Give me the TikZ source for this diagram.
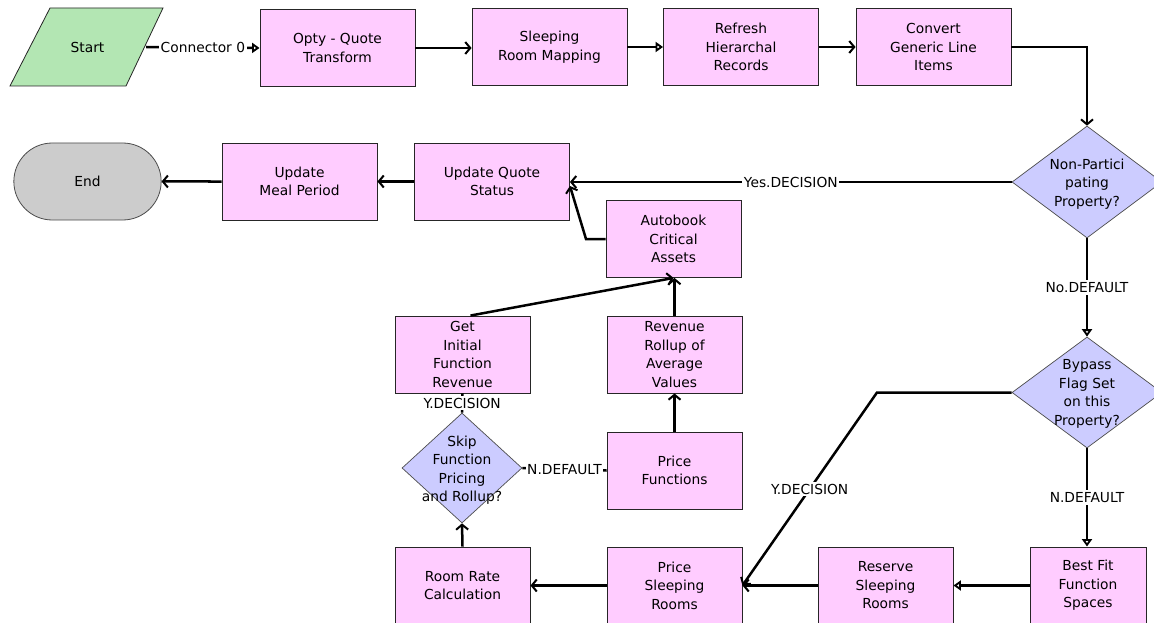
\documentclass[tikz,border=0pt]{standalone}
\usepackage{fontspec}
\setmainfont{DejaVu Sans}
\usetikzlibrary{shapes.geometric,shapes.misc,arrows.meta}
\definecolor{pinkc}{HTML}{FFCCFF}
\definecolor{lavc}{HTML}{CCCCFF}
\definecolor{greenc}{HTML}{B3E6B3}
\definecolor{grayc}{HTML}{CCCCCC}
\newcommand\dfont{\fontsize{13.8}{18.5}\selectfont}
\begin{document}
\begin{tikzpicture}[x=1pt,y=-1pt,
  box/.style={draw=black!85, line width=0.9pt, fill=pinkc, minimum width=135pt, minimum height=77pt, inner sep=0pt, align=center, font=\dfont},
  wbox/.style={box, minimum width=155pt},
  dia/.style={diamond, draw=black!70, line width=0.7pt, fill=lavc, inner sep=0pt},
  dtext/.style={align=center, font=\dfont, inner sep=0pt},
  pline/.style={line width=2.5pt},
  conn/.style={pline, -{Straight Barb[length=5pt,width=12pt,line width=2pt]}},
  oconn/.style={pline, -{Triangle[open,length=7.5pt,width=10pt,line width=2pt]}},
  lbl/.style={fill=white, inner xsep=1.5pt, inner ysep=2pt, font=\dfont},
]
\useasboundingbox[fill=white] (0,0) rectangle (1154,623);
\clip (0,0) rectangle (1154,623);

% start
\draw[fill=greenc, draw=black!85, line width=0.8pt] (50,8) -- (163,8) -- (126,86) -- (10,86) -- cycle;
\node[dtext, minimum width=117pt, minimum height=78pt] (start) at (87.5,47) {Start};

% top row
\node[wbox] (opty) at (337.5,48) {Opty - Quote\\Transform};
\node[wbox] (sleep) at (549.5,47) {Sleeping\\Room Mapping};
\node[wbox] (refresh) at (741,47) {Refresh\\Hierarchal\\Records};
\node[wbox] (convert) at (933.5,47) {Convert\\Generic Line\\Items};

% diamonds
\node[dia, minimum width=150pt, minimum height=112pt] (npp) at (1087,182) {};
\node[dtext] (npptxt) at (1087,184) {Non-Partici\\pating\\Property?};
\node[dia, minimum width=150pt, minimum height=111pt] (bypass) at (1087,392.5) {};
\node[dtext] (bypasstxt) at (1087,394) {Bypass\\Flag Set\\on this\\Property?};
\node[dia, minimum width=120pt, minimum height=110pt] (skip) at (462,468) {};
\node[dtext] (skiptxt) at (462,470) {Skip\\Function\\Pricing\\and Rollup?};

% row 2
\node[rounded rectangle, draw=black!70, line width=0.8pt, fill=grayc, minimum width=154pt, minimum height=77pt, font=\dfont] (end) at (87.5,181.5) {End};
\node[wbox] (ump) at (299.5,181.5) {Update\\Meal Period};
\node[wbox] (uqs) at (492,181.5) {Update Quote\\Status};
\node[box] (auto) at (673.5,239) {Autobook\\Critical\\Assets};

% middle
\node[box] (getinit) at (462.5,354.5) {Get\\Initial\\Function\\Revenue};
\node[box] (rollup) at (674.5,354.5) {Revenue\\Rollup of\\Average\\Values};
\node[box] (pricefn) at (674.5,470.5) {Price\\Functions};

% bottom row
\node[box] (roomrate) at (462.5,585.5) {Room Rate\\Calculation};
\node[box] (pricesleep) at (674.5,585.5) {Price\\Sleeping\\Rooms};
\node[box] (reserve) at (885.5,585.5) {Reserve\\Sleeping\\Rooms};
\node[box, minimum width=116pt] (bestfit) at (1088,585.5) {Best Fit\\Function\\Spaces};

% connectors
\draw[oconn] (start.east) -- node[lbl]{Connector 0} (opty.west);
\draw[conn] (opty.east) -- (opty.east -| sleep.west);
\draw[oconn] (sleep) -- (refresh);
\draw[conn] (refresh) -- (convert);
\draw[conn] (convert.east) -| (npp.north);
\draw[conn] (npp.west) -- node[lbl]{Yes.DECISION} (uqs.east |- npp.west);
\draw[conn] (uqs) -- (ump);
\draw[conn] (ump) -- (end);
\draw[oconn] (npp.south) -- node[lbl]{No.DEFAULT} (bypass.north);
\draw[oconn] (bypass.south) -- node[lbl]{N.DEFAULT} (bestfit.north -| bypass.south);
\coordinate (ybend) at (877,392.5);
\draw[conn] (bypass.west) -- (ybend) -- node[lbl]{Y.DECISION} (pricesleep.east);
\draw[oconn] (bestfit) -- (reserve);
\draw[conn] (reserve) -- (pricesleep);
\draw[conn] (pricesleep) -- (roomrate);
\draw[conn] (roomrate.north) -- (skip.south);
\draw[pline] (skip.north) -- node[lbl]{Y.DECISION} (getinit.south);
\draw[pline] (skip.east) -- node[lbl]{N.DEFAULT} (pricefn.west);
\draw[conn] (pricefn) -- (rollup);
\draw[conn] (rollup.north) -- (rollup.north |- auto.south);
\draw[conn] ([xshift=8pt]getinit.north) -- (auto.south);
\coordinate (abend) at (586,239);
\draw[conn] (auto.west) -- (abend) -- ([yshift=-4.5pt]uqs.east);
\end{tikzpicture}
\end{document}
